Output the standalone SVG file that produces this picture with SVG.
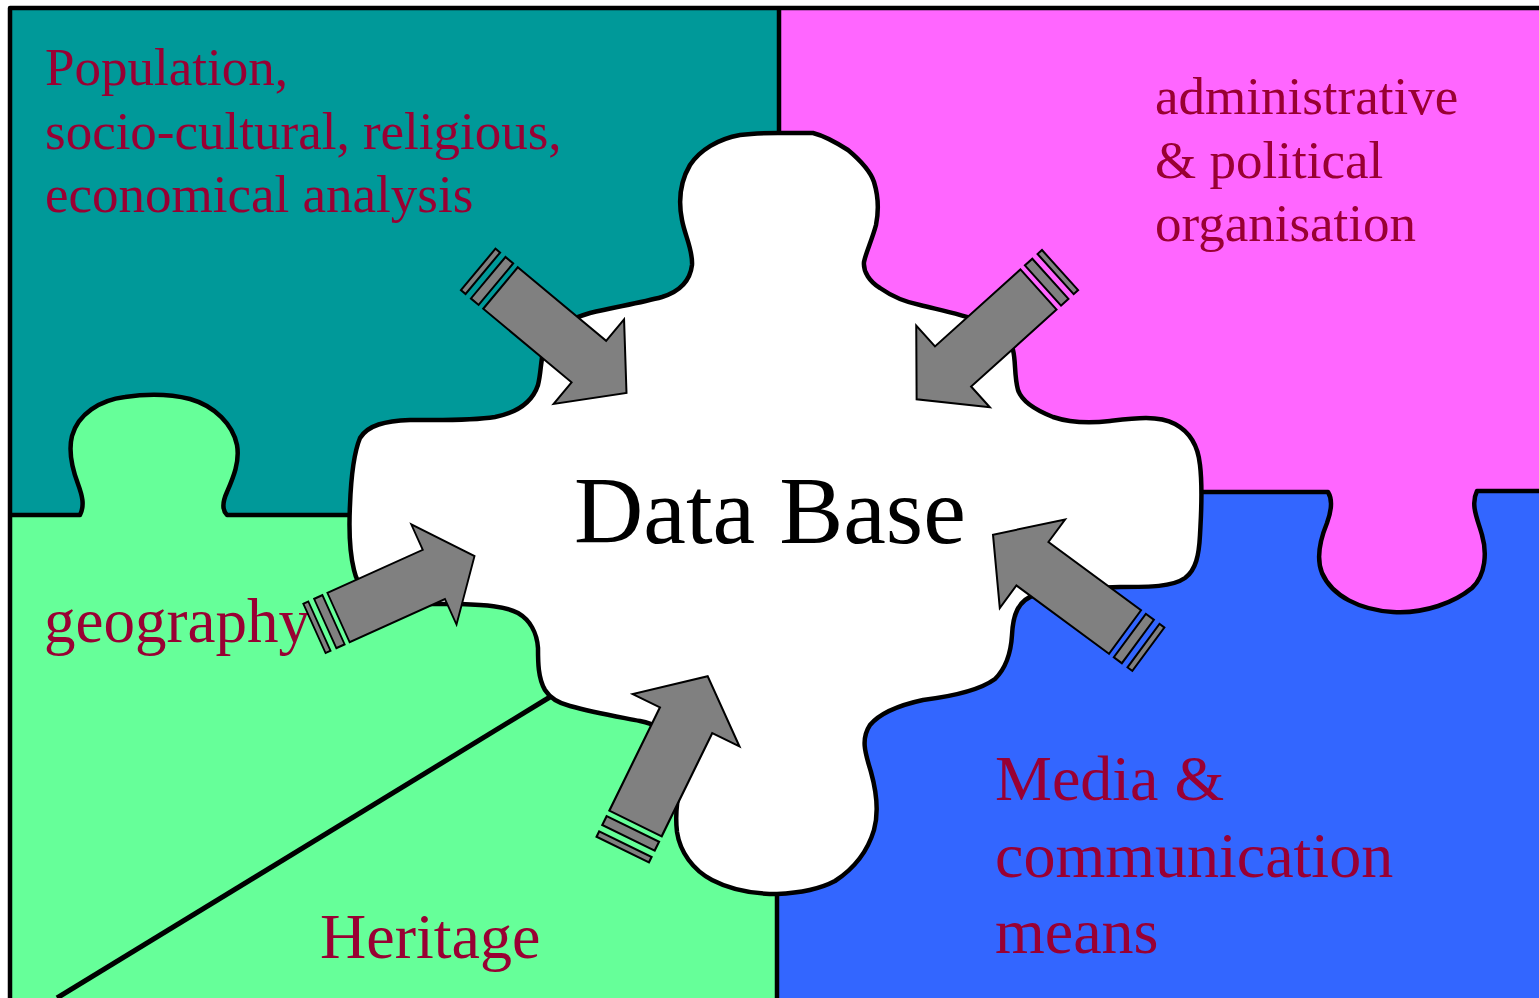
<svg xmlns="http://www.w3.org/2000/svg" width="1539" height="998" viewBox="0 0 1539 998">
<style>
.edge{fill:none;stroke:#000;stroke-width:4.5;stroke-linejoin:round;stroke-linecap:butt}
.lbl{font-family:"Liberation Serif","Times New Roman",serif;fill:#990033}
.arr{fill:#808080;stroke:#000;stroke-width:2;stroke-linejoin:miter}
</style>
<defs>
<g id="arrow">
<path class="arr" d="M0,-27 L115,-27 L115,-55 L164,0 L115,55 L115,27 L0,27 Z"/>
<rect class="arr" x="-16" y="-27" width="10" height="54"/>
<rect class="arr" x="-29" y="-27" width="6" height="54"/>
</g>
</defs>
<rect x="0" y="0" width="1539" height="998" fill="#fff"/>
<g id="teal-piece">
<rect x="10" y="8" width="770" height="508" fill="#009999"/>
<text class="lbl" font-size="53"><tspan x="45" y="85">Population,</tspan><tspan x="45" y="149">socio-cultural, religious,</tspan><tspan x="45" y="212">economical analysis</tspan></text>
</g>
<g id="pink-piece">
<rect x="780" y="8" width="759" height="484" fill="#FF66FF"/>
<text class="lbl" font-size="53"><tspan x="1155" y="114">administrative</tspan><tspan x="1155" y="178">&amp; political</tspan><tspan x="1155" y="241">organisation</tspan></text>
</g>
<g id="blue-piece">
<rect x="778" y="492" width="761" height="506" fill="#3366FF"/>
<path d="M1328,488 L1328,492 C1333,500 1331,512 1327,523 C1320,540 1316,558 1322,573 C1332,596 1360,610 1393,612 C1425,614 1455,602 1472,588 C1486,575 1487,552 1482,535 C1478,520 1470,505 1477,491 L1477,488 Z" fill="#FF66FF"/>
<path class="edge" d="M1200,492 L1328,492 C1333,500 1331,512 1327,523 C1320,540 1316,558 1322,573 C1332,596 1360,610 1393,612 C1425,614 1455,602 1472,588 C1486,575 1487,552 1482,535 C1478,520 1470,505 1477,491 L1539,491"/>
<text class="lbl" font-size="64"><tspan x="995" y="800">Media &amp;</tspan><tspan x="995" y="877">communication</tspan><tspan x="995" y="953">means</tspan></text>
</g>
<g id="green-piece">
<rect x="10" y="516" width="768" height="482" fill="#66FF99"/>
<path d="M80,520 L80,515 C85,505 82,495 78,484 C72,468 68,452 72,436 C78,414 100,400 125,397 C145,394 170,394 190,399 C215,406 233,425 237,445 C240,462 233,478 227,492 C222,503 222,510 227,515 L227,520 Z" fill="#66FF99"/>
<path class="edge" d="M10,515 L80,515 C85,505 82,495 78,484 C72,468 68,452 72,436 C78,414 100,400 125,397 C145,394 170,394 190,399 C215,406 233,425 237,445 C240,462 233,478 227,492 C222,503 222,510 227,515 L352,515"/>
<path class="edge" style="stroke-width:5" d="M550,697 L57,998"/>
<text class="lbl" font-size="63" x="44" y="642">geography</text>
<text class="lbl" font-size="64" x="320" y="958">Heritage</text>
</g>
<g id="frame">
<path class="edge" d="M10,998 L10,8 L1539,8"/>
<path class="edge" d="M779,8 L779,134"/>
<path class="edge" d="M777,893 L777,998"/>
</g>
<g id="database">
<path class="edge" style="fill:#fff" d="M778,133 L813,133 C825,136 837,143 848,150 C860,160 870,170 874,182 C878,195 879,210 876,225 C872,240 866,252 864,262 C863,272 870,282 880,288 C890,295 905,302 920,305 C940,310 960,314 980,321 C998,327 1010,337 1013,350 C1016,362 1014,375 1018,390 C1022,402 1035,410 1053,417 C1068,422 1085,424 1110,421 C1135,418 1158,415 1175,424 C1190,432 1198,445 1200,465 C1203,490 1201,515 1200,535 C1199,555 1196,570 1185,578 C1172,587 1150,587 1120,587 C1090,588 1055,590 1035,595 C1018,600 1013,615 1012,635 C1011,652 1006,668 995,679 C980,690 955,696 923,700 C900,705 880,713 870,725 C860,740 866,755 871,772 C876,790 879,812 874,830 C868,850 855,868 835,881 C818,890 800,893 777,894 C755,894 733,891 712,880 C693,870 680,852 677,832 C675,815 677,800 680,787 C683,770 681,752 672,739 C665,729 655,724 640,721 C620,717 595,713 570,706 C558,703 550,698 545,690 C538,678 538,662 538,648 C537,633 530,620 518,613 C505,606 485,605 460,604 C430,604 405,605 385,601 C368,596 358,588 354,570 C349,550 349,525 350,505 C351,478 353,455 360,438 C368,425 385,421 410,420 C440,420 470,421 495,417 C515,413 532,403 538,385 C542,370 540,352 548,338 C555,326 570,319 590,313 C615,307 640,303 662,297 C678,292 690,282 692,265 C693,250 685,236 682,220 C678,200 680,182 690,165 C700,150 718,139 740,135 C755,133 765,133 778,133 Z"/>
<text font-family="Liberation Serif, Times New Roman, serif" font-size="96" fill="#000" x="574" y="543">Data Base</text>
</g>
<g id="connectors">
<use href="#arrow" transform="translate(500.5,288) rotate(39.8)"/>
<use href="#arrow" transform="translate(1038.5,289.5) rotate(138)"/>
<use href="#arrow" transform="translate(338.5,617.5) rotate(-24.3) scale(0.91,1)"/>
<use href="#arrow" transform="translate(1125,632) rotate(216.4)"/>
<use href="#arrow" transform="translate(635.5,823.5) rotate(-63.9) scale(1,1.08)"/>
</g>
</svg>
